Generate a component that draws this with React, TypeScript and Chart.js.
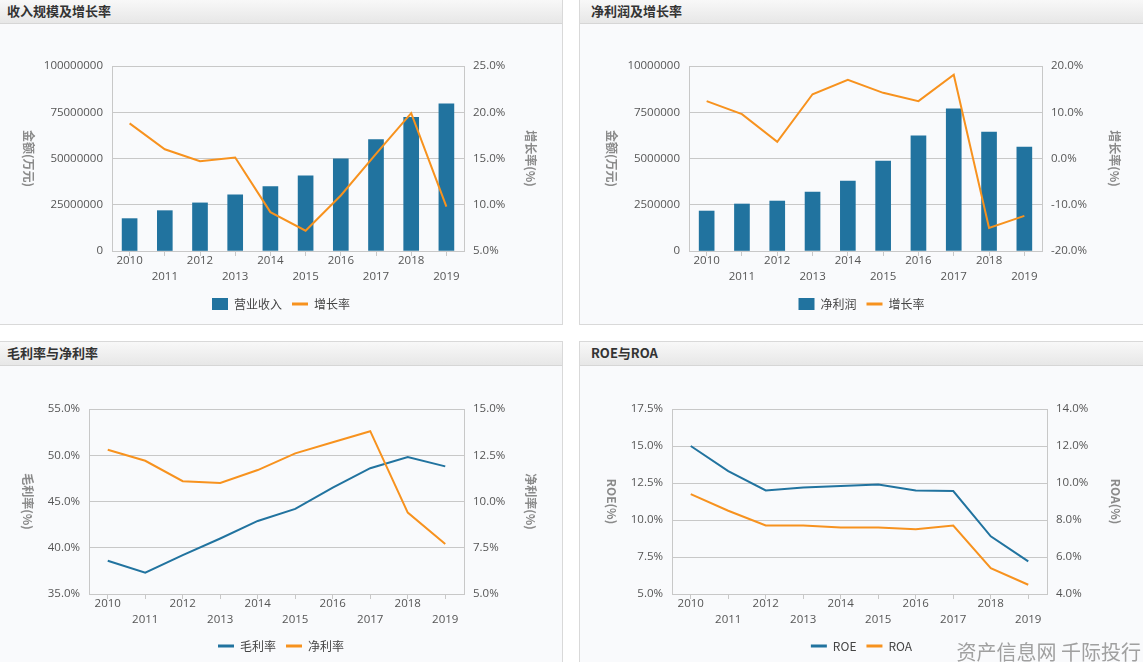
import React, { useEffect, useRef } from 'react';
import { Chart, registerables } from 'chart.js';

Chart.register(...registerables);

// ---------- data ----------
const categories = ['2010', '2011', '2012', '2013', '2014', '2015', '2016', '2017', '2018', '2019'];
const revenue = [17500000, 21800000, 26000000, 30300000, 34800000, 40600000, 49800000, 60200000, 72200000, 79500000];
const revenueGrowth = [18.8, 16.0, 14.7, 15.1, 9.2, 7.2, 11.0, 15.5, 19.9, 9.8];
const netProfit = [2160000, 2540000, 2700000, 3190000, 3780000, 4860000, 6220000, 7680000, 6430000, 5620000];
const profitGrowth = [12.4, 9.6, 3.6, 13.9, 17.0, 14.2, 12.4, 18.1, -15.0, -12.4];
const grossMargin = [38.6, 37.3, 39.2, 41.0, 42.9, 44.2, 46.5, 48.6, 49.8, 48.8];
const netMargin = [12.8, 12.2, 11.1, 11.0, 11.7, 12.6, 13.2, 13.8, 9.4, 7.7];
const roe = [15.0, 13.3, 12.0, 12.2, 12.3, 12.4, 12.0, 11.96, 8.9, 7.2];
const roa = [9.4, 8.5, 7.7, 7.7, 7.6, 7.6, 7.5, 7.7, 5.4, 4.5];

// axis ranges [min, max, step]
const revenueAxis = [0, 100000000, 25000000];
const revenueGrowthAxis = [5, 25, 5];
const profitAxis = [0, 10000000, 2500000];
const profitGrowthAxis = [-20, 20, 10];
const grossAxis = [35, 55, 5];
const netMarginAxis = [5, 15, 2.5];
const roeAxis = [5, 17.5, 2.5];
const roaAxis = [4, 14, 2];

// ---------- styles ----------
const BLUE = '#21739f';
const ORANGE = '#f7921e';
const GRID = '#c8c8c8';
const TICK_FONT = { family: '"Open Sans", "Noto Sans CJK SC", sans-serif', size: 11.5 };
const LEGEND_FONT = { family: '"Noto Sans CJK SC", "Open Sans", sans-serif', size: 12 };
const CJK = '"Noto Sans CJK SC", sans-serif';

const xLabels = categories.map((c, i) => (i % 2 === 0 ? [c, ''] : ['', c]));

const pct = (v: any) => Number(v).toFixed(1) + '%';
const plain = (v: any) => String(v);

function axisTitlePlugin(leftText: string, leftX: number, rightText: string, rightX: number) {
  return {
    id: 'axisTitles',
    afterDraw(chart: any) {
      const { ctx, chartArea } = chart;
      const cy = (chartArea.top + chartArea.bottom) / 2;
      ctx.save();
      ctx.font = 'bold 12px ' + CJK;
      ctx.fillStyle = '#8a8a8a';
      ctx.textAlign = 'center';
      ctx.textBaseline = 'middle';
      const items: [string, number][] = [[leftText, leftX], [rightText, rightX]];
      for (const [t, x] of items) {
        ctx.save();
        ctx.translate(x, cy);
        ctx.rotate(Math.PI / 2);
        ctx.fillText(t, 0, 0);
        ctx.restore();
      }
      ctx.restore();
    },
  };
}

interface Spec {
  kind: 'bar' | 'line';
  s1Label: string;
  s1: number[];
  s2Label: string;
  s2: number[];
  yAxis: number[];
  y1Axis: number[];
  yFmt: (v: any) => string;
  y1Fmt: (v: any) => string;
  yWidth: number;
  y1Width: number;
  padTop: number;
  padBottom: number;
  xHeight: number;
  leftTitle: string;
  leftTitleX: number;
  rightTitle: string;
  rightTitleX: number;
}

function buildConfig(s: Spec): any {
  const ds1: any =
    s.kind === 'bar'
      ? { type: 'bar', label: s.s1Label, data: s.s1, backgroundColor: BLUE, borderWidth: 0, barThickness: 15, yAxisID: 'y', order: 1 }
      : { type: 'line', label: s.s1Label, data: s.s1, borderColor: BLUE, backgroundColor: BLUE, borderWidth: 2, pointRadius: 0, pointHoverRadius: 0, tension: 0, yAxisID: 'y', order: 1 };
  const ds2: any = { type: 'line', label: s.s2Label, data: s.s2, borderColor: ORANGE, backgroundColor: ORANGE, borderWidth: 2, pointRadius: 0, pointHoverRadius: 0, tension: 0, yAxisID: 'y1', order: 0 };
  return {
    type: 'bar',
    data: { labels: xLabels, datasets: [ds1, ds2] },
    options: {
      animation: false,
      responsive: true,
      maintainAspectRatio: false,
      layout: { padding: { top: s.padTop, bottom: s.padBottom, left: 0, right: 0 } },
      plugins: {
        tooltip: { enabled: false },
        legend: {
          position: 'bottom',
          labels: {
            usePointStyle: true,
            pointStyleWidth: 16,
            boxHeight: 12,
            padding: 10,
            font: LEGEND_FONT,
            color: '#444',
            generateLabels: (chart: any) =>
              chart.data.datasets.map((d: any, i: number) => {
                const isBar = d.type === 'bar';
                const col = isBar ? d.backgroundColor : d.borderColor;
                return {
                  text: d.label,
                  fillStyle: col,
                  strokeStyle: col,
                  lineWidth: isBar ? 0 : 3,
                  pointStyle: isBar ? 'rect' : 'line',
                  hidden: false,
                  datasetIndex: i,
                  fontColor: '#444',
                };
              }),
          },
        },
      },
      scales: {
        x: {
          offset: true,
          grid: { drawOnChartArea: false, offset: false, tickLength: 5, color: GRID },
          border: { color: GRID },
          ticks: { font: { ...TICK_FONT, lineHeight: 16 / 11.5 }, color: '#555', padding: -3, maxRotation: 0, autoSkip: false },
          afterFit: (sc: any) => { sc.height = s.xHeight; },
        },
        y: {
          position: 'left',
          min: s.yAxis[0],
          max: s.yAxis[1],
          grid: { color: GRID, drawTicks: false },
          border: { color: GRID },
          ticks: { stepSize: s.yAxis[2], callback: s.yFmt, font: TICK_FONT, color: '#555', padding: 9 },
          afterFit: (sc: any) => { sc.width = s.yWidth; },
        },
        y1: {
          position: 'right',
          min: s.y1Axis[0],
          max: s.y1Axis[1],
          grid: { drawOnChartArea: false, drawTicks: false },
          border: { color: GRID },
          ticks: { stepSize: s.y1Axis[2], callback: s.y1Fmt, font: TICK_FONT, color: '#555', padding: 9 },
          afterFit: (sc: any) => { sc.width = s.y1Width; },
        },
      },
    },
    plugins: [axisTitlePlugin(s.leftTitle, s.leftTitleX, s.rightTitle, s.rightTitleX)],
  };
}

function ChartBox({ spec, width, height }: { spec: Spec; width: number; height: number }) {
  const ref = useRef<HTMLCanvasElement | null>(null);
  useEffect(() => {
    if (!ref.current) return;
    const chart = new Chart(ref.current, buildConfig(spec));
    return () => chart.destroy();
  }, []);
  return (
    <div style={{ position: 'relative', width, height }}>
      <canvas ref={ref} />
    </div>
  );
}

function Panel({ left, top, width, height, title, titlePad, children }: any) {
  return (
    <div
      style={{
        position: 'absolute',
        left,
        top,
        width,
        height,
        boxSizing: 'border-box',
        border: '1px solid #d9d9d9',
        background: '#f9fafc',
      }}
    >
      <div
        style={{
          height: 24,
          boxSizing: 'border-box',
          borderBottom: '1px solid #d6d6d6',
          background: 'linear-gradient(#f8f8f8, #e7e7e7)',
          fontFamily: CJK,
          fontWeight: 'bold',
          fontSize: 13,
          lineHeight: '22px',
          color: '#333',
          paddingLeft: titlePad,
        }}
      >
        {title}
      </div>
      {children}
    </div>
  );
}

const spec1: Spec = {
  kind: 'bar', s1Label: '营业收入', s1: revenue, s2Label: '增长率', s2: revenueGrowth,
  yAxis: revenueAxis, y1Axis: revenueGrowthAxis, yFmt: plain, y1Fmt: pct,
  yWidth: 112, y1Width: 98, padTop: 42, padBottom: 4, xHeight: 37,
  leftTitle: '金额(万元)', leftTitleX: 29, rightTitle: '增长率(%)', rightTitleX: 530.5,
};
const spec2: Spec = {
  kind: 'bar', s1Label: '净利润', s1: netProfit, s2Label: '增长率', s2: profitGrowth,
  yAxis: profitAxis, y1Axis: profitGrowthAxis, yFmt: plain, y1Fmt: pct,
  yWidth: 109, y1Width: 101, padTop: 42, padBottom: 4, xHeight: 37,
  leftTitle: '金额(万元)', leftTitleX: 32, rightTitle: '增长率(%)', rightTitleX: 535,
};
const spec3: Spec = {
  kind: 'line', s1Label: '毛利率', s1: grossMargin, s2Label: '净利率', s2: netMargin,
  yAxis: grossAxis, y1Axis: netMarginAxis, yFmt: pct, y1Fmt: pct,
  yWidth: 89, y1Width: 98, padTop: 43, padBottom: 0, xHeight: 36,
  leftTitle: '毛利率(%)', leftTitleX: 28, rightTitle: '净利率(%)', rightTitleX: 531,
};
const spec4: Spec = {
  kind: 'line', s1Label: 'ROE', s1: roe, s2Label: 'ROA', s2: roa,
  yAxis: roeAxis, y1Axis: roaAxis, yFmt: pct, y1Fmt: pct,
  yWidth: 92, y1Width: 96, padTop: 43, padBottom: 0, xHeight: 36,
  leftTitle: 'ROE(%)', leftTitleX: 32, rightTitle: 'ROA(%)', rightTitleX: 536,
};

export default function App() {
  return (
    <div style={{ position: 'fixed', left: 0, top: 0, width: 1143, height: 662, overflow: 'hidden', background: '#ffffff' }}>
      <Panel left={-1} top={-1} width={564} height={326} title="收入规模及增长率" titlePad={7}>
        <ChartBox spec={spec1} width={562} height={300} />
      </Panel>
      <Panel left={579} top={-1} width={566} height={326} title="净利润及增长率" titlePad={11}>
        <ChartBox spec={spec2} width={563} height={300} />
      </Panel>
      <Panel left={-1} top={341} width={564} height={340} title="毛利率与净利率" titlePad={7}>
        <ChartBox spec={spec3} width={562} height={296} />
      </Panel>
      <Panel left={579} top={341} width={566} height={340} title="ROE与ROA" titlePad={11}>
        <ChartBox spec={spec4} width={563} height={296} />
      </Panel>
      <div
        style={{
          position: 'absolute',
          right: 2,
          top: 641,
          fontFamily: CJK,
          fontSize: 20,
          lineHeight: '22px',
          color: '#a0a0a0',
          whiteSpace: 'pre',
        }}
      >
        资产信息网 千际投行
      </div>
    </div>
  );
}
